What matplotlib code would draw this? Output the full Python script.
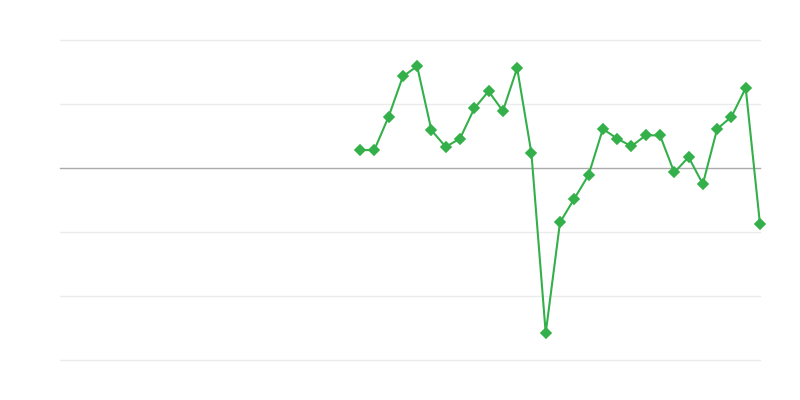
import matplotlib
matplotlib.use("Agg")
import matplotlib.pyplot as plt
import numpy as np

# 50 periods, first 21 have no value
n_missing = 21
values = [0.28, 0.28, 0.80, 1.43, 1.59, 0.59, 0.33, 0.46, 0.93, 1.20,
          0.89, 1.56, 0.23, -2.58, -0.85, -0.48, -0.11, 0.61, 0.46, 0.34,
          0.51, 0.51, -0.07, 0.17, -0.25, 0.61, 0.80, 1.25, -0.88]

y = np.array([np.nan] * n_missing + values)
x = np.arange(len(y))

fig = plt.figure(figsize=(8, 4), dpi=100)
ax = fig.add_axes([0.075, 0.1, 0.875, 0.8])

for g in [-3, -2, -1, 1, 2]:
    ax.axhline(g, color="#ebebeb", lw=1, zorder=0, clip_on=False)
ax.axhline(0, color="#aaaaaa", lw=1, zorder=1, clip_on=False)

ax.plot(x, y, color="#34b04a", lw=1.5, marker="D", markersize=5.5,
        markeredgewidth=1.2, markeredgecolor="#34b04a", zorder=3, clip_on=False)

ax.set_xlim(0, len(y) - 1)
ax.set_ylim(-3, 2)
ax.set_xticks([])
ax.set_yticks([])
for s in ax.spines.values():
    s.set_visible(False)

fig.savefig("out.png", dpi=100)
